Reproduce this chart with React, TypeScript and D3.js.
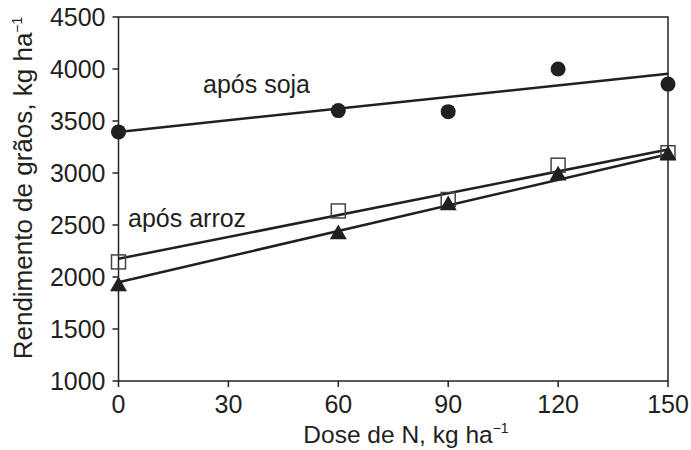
import React from 'react';
import * as d3 from 'd3';

// Dose de N (kg/ha)
const doses = [0, 60, 90, 120, 150];
// rendimento após soja (círculos)
const sojaValues = [3395, 3600, 3590, 4000, 3855];
// após arroz, quadrados abertos
const arrozQuadValues = [2145, 2635, 2745, 3075, 3195];
// após arroz, triângulos
const arrozTriValues = [1910, 2410, 2690, 2975, 3170];
// linhas ajustadas (valor em dose 0 e dose 150)
const fitDoses = [0, 150];
const sojaFit = [3395, 3955];
const quadFit = [2175, 3225];
const triFit = [1950, 3180];

const xTicks = [0, 30, 60, 90, 120, 150];
const yTicks = [1000, 1500, 2000, 2500, 3000, 3500, 4000, 4500];

const W = 691;
const H = 450;
const margin = { top: 17, right: 23, bottom: 69, left: 118.5 };
const font = '"Liberation Sans", Arial, Helvetica, sans-serif';
const ink = '#231f20';

const App = () => {
  const x = d3.scaleLinear().domain([0, 150]).range([margin.left, W - margin.right]);
  const y = d3.scaleLinear().domain([1000, 4500]).range([H - margin.bottom, margin.top]);

  const line = d3
    .line<number>()
    .x((_, i) => x(fitDoses[i]))
    .y((d) => y(d));

  const x0 = x(0);
  const x1 = x(150);
  const y0 = y(1000);
  const y1 = y(4500);

  const tri = d3.symbol().type(d3.symbolTriangle).size(125)();

  return (
    <svg
      width={W}
      height={H}
      style={{ position: 'absolute', left: 0, top: 0, background: '#fff' }}
      fontFamily={font}
    >
      {/* frame */}
      <rect x={x0} y={y1} width={x1 - x0} height={y0 - y1} fill="none" stroke="#222" strokeWidth={1.5} />

      {/* y ticks */}
      {yTicks.map((t) => (
        <g key={'y' + t}>
          <line x1={x0 - 6} x2={x0} y1={y(t)} y2={y(t)} stroke="#222" strokeWidth={1.5} />
          <text x={x0 - 13} y={y(t)} dy="0.36em" textAnchor="end" fontSize={25} fill={ink}>
            {t}
          </text>
        </g>
      ))}

      {/* x ticks */}
      {xTicks.map((t) => (
        <g key={'x' + t}>
          <line x1={x(t)} x2={x(t)} y1={y0} y2={y0 + 6} stroke="#222" strokeWidth={1.5} />
          <text x={x(t)} y={y0 + 32} textAnchor="middle" fontSize={25} fill={ink}>
            {t}
          </text>
        </g>
      ))}

      {/* fitted lines */}
      <path d={line(sojaFit) || ''} fill="none" stroke={ink} strokeWidth={2.5} />
      <path d={line(quadFit) || ''} fill="none" stroke={ink} strokeWidth={2.5} />
      <path d={line(triFit) || ''} fill="none" stroke={ink} strokeWidth={2.5} />

      {/* markers */}
      {doses.map((d, i) => (
        <circle key={'c' + d} cx={x(d)} cy={y(sojaValues[i])} r={7.5} fill={ink} />
      ))}
      {doses.map((d, i) => (
        <rect
          key={'s' + d}
          x={x(d) - 7}
          y={y(arrozQuadValues[i]) - 7}
          width={14}
          height={14}
          fill="none"
          stroke="#444"
          strokeWidth={1.5}
        />
      ))}
      {doses.map((d, i) => (
        <path key={'t' + d} d={tri || ''} transform={`translate(${x(d)},${y(arrozTriValues[i])})`} fill={ink} />
      ))}

      {/* annotations */}
      <text x={203} y={93} fontSize={25} fill={ink}>após soja</text>
      <text x={128} y={227} fontSize={25} fill={ink}>após arroz</text>

      {/* axis titles */}
      <text x={406} y={443} textAnchor="middle" fontSize={24.5} fill={ink}>
        Dose de N, kg ha<tspan dy={-10} fontSize={14}>−1</tspan>
      </text>
      <text
        transform={`translate(32,188) rotate(-90)`}
        textAnchor="middle"
        fontSize={26}
        fill={ink}
      >
        Rendimento de grãos, kg ha<tspan dy={-10} fontSize={14}>−1</tspan>
      </text>
    </svg>
  );
};

export default App;
